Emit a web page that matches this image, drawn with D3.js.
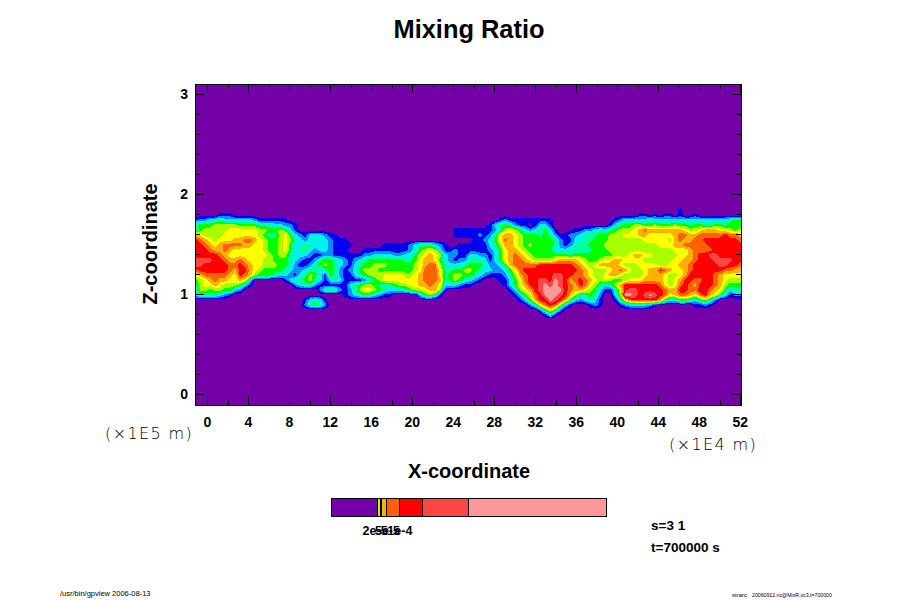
<![CDATA[<html>
<head>
    <title>Mixing Ratio</title>
    <script src="https://cdnjs.cloudflare.com/ajax/libs/d3/7.8.5/d3.min.js"></script>
    <style>
        body { margin: 0; background: white; overflow: hidden; }
        svg { display: block; }
        text { font-family: "Liberation Sans", sans-serif; fill: black; }
        .bold { font-weight: bold; }
        .unit { font-family: "DejaVu Sans", sans-serif; font-size: 16px; letter-spacing: 1.4px; font-weight: 200; }
        .tickLabel { font-weight: bold; font-size: 14px; }
    </style>
</head>
<body>
<svg id="chart" width="900" height="600"></svg>
<script>
    // === chart values ===
    var xMajorTicks = [0, 4, 8, 12, 16, 20, 24, 28, 32, 36, 40, 44, 48, 52];
    var xMinorTicks = [2, 6, 10, 14, 18, 22, 26, 30, 34, 38, 42, 46, 50];
    var zMajorTicks = [0, 1, 2, 3];
    var zMinorTicks = [0.2, 0.4, 0.6, 0.8, 1.2, 1.4, 1.6, 1.8, 2.2, 2.4, 2.6, 2.8];

    // one colour per mixing ratio class, index = hex digit used in the rows below
    var classColors = ["#7400a8", "#0000f0", "#0090ff", "#00f0f0", "#00ffa0", "#00ff00", "#a8ff00", "#ffff00",
                       "#ffb000", "#ff6000", "#ff0000", "#ff4444", "#ff9999", "#ffffff"];

    // grid of classes read off the picture: columns step 0.488 (x1E4 m), rows step 0.05 (x1E5 m)
    var colStart = -1.17, colStep = 0.488;
    var rowStart = 1.89, rowStep = -0.05;

    // west half of the domain, one string per row from the top
    var rowsWest = [
        "",
        "",
        "00000111",
        "12233433333321111110",
        "455566666555544433221",
        "356666677777766556531" + "0000000000000000000000000000000" + "111",
        "87666677777776544675321333211" + "00000000000000000000000" + "111",
        "a987677788998765567643234332111",
        "aa98789999887765567533443332111100000" + "011111234443210011",
        "aaa9889877" + "7777655675" + "3443233211" + "1000" + "111111111" + "2356763" + "11211",
        "aaaaa98777" + "7777765664" + "3332112211" + "1111223333223" + "3567876" + "32211",
        "bbbbaa9889" + "8777665554" + "3211245543" + "2123455555554" + "4578875" + "32122",
        "bbaaaaa99a" + "9877666554" + "2112456543" + "2134556665555" + "5678996" + "43334",
        "9aaaaaa98a" + "a876555543" + "2234434542" + "1235666555555" + "5679997" + "44556",
        "789999987a" + "9865554332" + "1346531542" + "1134566677776" + "6789997" + "45665",
        "5678988778" + "7300000013" + "4456431343" + "1111235677777" + "7789998" + "45654",
        "4677876665" + "3100000000" + "2344211111" + "1345665444566" + "7788987" + "33321",
        "4665665532" + "0000000000" + "0000024542" + "1246776543334" + "5667886" + "10000",
        "3444432100" + "0000000000" + "0000000000" + "1234543211000" + "0035641",
        "0000000000000000000000134310000",
        "0000000000000000000000245420000",
        "",
        ""
    ];

    // east half of the domain
    var rowsEast = [
        "",
        "000000000000000000000000000000000000000000" + "1",
        "0000000000000000000000000000000000" + "11010110100" + "1",
        "000000121" + "11111111" + "000000000000" + "1233" + "33343" + "3333333333333" + "3455",
        "00001" + "345421101331" + "00000000000" + "1" + "345566556" + "55565545" + "544554" + "555",
        "11111" + "2467653234531" + "000" + "1122" + "34345" + "66678988" + "88888" + "766" + "788877" + "656",
        "11212" + "47887655545421" + "122344" + "45566" + "67778877" + "77789" + "988" + "99999a" + "998",
        "01123" + "57987655555542" + "113344" + "55566" + "66666777" + "77689" + "889" + "9aaaaa" + "aa9",
        "11113" + "46887656555542" + "123445" + "55666" + "66666666" + "77788" + "999" + "99aaaa" + "aaa",
        "11112" + "35788765555533" + "344444" + "55566" + "66666666" + "66677" + "789" + "999aaa" + "aaa",
        "33221" + "35789876555555" + "545555" + "55556" + "66788776" + "66667" + "789" + "aabbaa" + "aaa",
        "44431" + "35789987666678" + "888765" + "56778" + "87777666" + "66677" + "889" + "aaabbb" + "baa",
        "55542" + "235899999aaaaa" + "aa9876" + "78888" + "76667777" + "66778" + "89a" + "aaaabb" + "aa9",
        "65433" + "223579aaaaaaaa" + "aaa987" + "66678" + "98766788" + "a9877" + "89a" + "aaaaa9" + "988",
        "54321" + "1124689aaaaabb" + "aa9987" + "66788" + "76666788" + "87667" + "8aa" + "aaa987" + "777",
        "32100" + "0113579aabbacb" + "a89a98" + "76765" + "56777888" + "87678" + "aa9" + "9aa987" + "666",
        "10000" + "0013578aabcbcb" + "a98a97" + "64346" + "8aaaaaaa" + "97679" + "a98" + "aaa986" + "555",
        "00000" + "00013678abcccc" + "a98876" + "53113" + "7abbaaaa" + "a988a" + "a99" + "aa9875" + "344",
        "00000" + "000013579acccb" + "a86445" + "42003" + "6dcbabcb" + "a9789" + "987" + "9a8753" + "122",
        "00000" + "000001358aacba" + "853234" + "31001" + "479aaaaa" + "85335" + "543" + "564200" + "000",
        "00000" + "00000002479a96" + "310001" + "21000" + "12333321" + "00000" + "001" + "121000" + "000",
        "00000" + "000000000" + "25752",
        "00000" + "0000000000" + "131"
    ];

    // colour bar, position along the bar in percent and the colour above each stop
    var barStops = [0, 17, 17.8, 18.5, 20, 24.8, 33.1, 49.8, 100];
    var barColors = ["#7400a8", "#a8ff00", "#ffff00", "#ffb000", "#ff6000", "#ff0000", "#ff4444", "#ff9999"];
    var barLabels = ["2e-5", "5e-5", "1e-4"];
    var barLabelStops = [16, 20.5, 25];

    // === layout ===
    var LEFT = 195, RIGHT = 741, TOP = 84, BOTTOM = 405;

    var svg = d3.select("#chart");
    var x = d3.scaleLinear().domain([-1.2, 52.08]).range([LEFT, RIGHT]);
    var z = d3.scaleLinear().domain([3.1, -0.11]).range([TOP, BOTTOM]);

    svg.append("clipPath").attr("id", "frameClip").append("rect")
        .attr("x", LEFT).attr("y", TOP).attr("width", RIGHT - LEFT).attr("height", BOTTOM - TOP);

    svg.append("rect")
        .attr("x", LEFT).attr("y", TOP).attr("width", RIGHT - LEFT).attr("height", BOTTOM - TOP)
        .attr("fill", classColors[0]);

    // === contours of the cloud layer ===
    var nCols = 110, nRows = rowsWest.length;
    var cells = [];
    for (var r = 0; r < nRows; r++) {
        var row = rowsWest[r].padEnd(55, "0").slice(0, 55) + rowsEast[r].padEnd(55, "0").slice(0, 55);
        for (var c = 0; c < nCols; c++) {
            cells.push(parseInt(row[c], 16));
        }
    }

    var thresholds = d3.range(1, classColors.length).map(function (d) { return d - 0.5; });
    var bands = d3.contours().size([nCols, nRows]).thresholds(thresholds)(cells);

    var gridPath = d3.geoPath(d3.geoTransform({
        point: function (cx, cy) {
            this.stream.point(x(colStart + (cx - 0.5) * colStep), z(rowStart + (cy - 0.5) * rowStep));
        }
    }));

    svg.append("g").attr("clip-path", "url(#frameClip)")
        .selectAll("path").data(bands).join("path")
        .attr("d", gridPath)
        .attr("shape-rendering", "crispEdges")
        .attr("fill", function (d, i) { return classColors[i + 1]; });

    // === axes, ticks point into the frame on all four sides ===
    function drawTicks(axis, values, size, y, xPos) {
        var g = svg.append("g").attr("transform", "translate(" + xPos + "," + y + ")")
            .call(axis.tickValues(values).tickSize(size));
        g.select(".domain").remove();
        g.selectAll("text").remove();
        g.selectAll("line").attr("stroke", "black").attr("shape-rendering", "crispEdges");
        return g;
    }

    drawTicks(d3.axisBottom(x), xMajorTicks, -9, BOTTOM, 0);
    drawTicks(d3.axisBottom(x), xMinorTicks, -5, BOTTOM, 0);
    drawTicks(d3.axisTop(x), xMajorTicks, -9, TOP, 0);
    drawTicks(d3.axisTop(x), xMinorTicks, -5, TOP, 0);
    drawTicks(d3.axisLeft(z), zMajorTicks, -9, 0, LEFT);
    drawTicks(d3.axisLeft(z), zMinorTicks, -5, 0, LEFT);
    drawTicks(d3.axisRight(z), zMajorTicks, -9, 0, RIGHT);
    drawTicks(d3.axisRight(z), zMinorTicks, -5, 0, RIGHT);

    svg.append("rect")
        .attr("x", LEFT).attr("y", TOP).attr("width", RIGHT - LEFT).attr("height", BOTTOM - TOP)
        .attr("fill", "none").attr("stroke", "black").attr("shape-rendering", "crispEdges");

    svg.selectAll(".xLabel").data(xMajorTicks).join("text")
        .attr("class", "tickLabel")
        .attr("x", function (d) { return x(d); })
        .attr("y", 427)
        .attr("text-anchor", "middle")
        .text(function (d) { return d; });

    svg.selectAll(".zLabel").data(zMajorTicks).join("text")
        .attr("class", "tickLabel")
        .attr("x", 188)
        .attr("y", function (d) { return z(d) + 5; })
        .attr("text-anchor", "end")
        .text(function (d) { return d; });

    // === titles ===
    function label(text, px, py, size, anchor, cls) {
        return svg.append("text").attr("x", px).attr("y", py)
            .attr("font-size", size).attr("text-anchor", anchor || "start")
            .attr("class", cls || "").text(text);
    }

    label("Mixing Ratio", 469, 38, 25.4, "middle", "bold");
    label("X-coordinate", 469, 478, 20, "middle", "bold");
    label("Z-coordinate", 0, 0, 20, "middle", "bold")
        .attr("transform", "translate(157,244) rotate(-90)");

    label("(\u00d71E5 m)", 105, 439, 16, "start", "unit");
    label("(\u00d71E4 m)", 669, 450, 16, "start", "unit");

    // === colour bar ===
    var barX = d3.scaleLinear().domain([0, 100]).range([331, 606.5]);
    svg.append("g").selectAll("rect").data(barColors).join("rect")
        .attr("x", function (d, i) { return barX(barStops[i]); })
        .attr("y", 498)
        .attr("width", function (d, i) { return barX(barStops[i + 1]) - barX(barStops[i]); })
        .attr("height", 18)
        .attr("fill", function (d) { return d; })
        .attr("stroke", "black")
        .attr("shape-rendering", "crispEdges");

    svg.append("g").selectAll("text").data(barLabels).join("text")
        .attr("class", "bold")
        .attr("x", function (d, i) { return barX(barLabelStops[i]); })
        .attr("y", 535)
        .attr("font-size", 12.5)
        .attr("text-anchor", "middle")
        .text(function (d) { return d; });

    label("s=3 1", 651, 530, 13.5, "start", "bold");
    label("t=700000 s", 651, 552, 13.5, "start", "bold");

    // === footer ===
    label("/usr/bin/gpview 2006-08-13", 60, 596, 7.5);
    label("strarc", 732, 597, 6);
    label("20060912.nc@MixR,xc3,t=700000", 752, 597, 5.2);
</script>
</body>
</html>
]]>
